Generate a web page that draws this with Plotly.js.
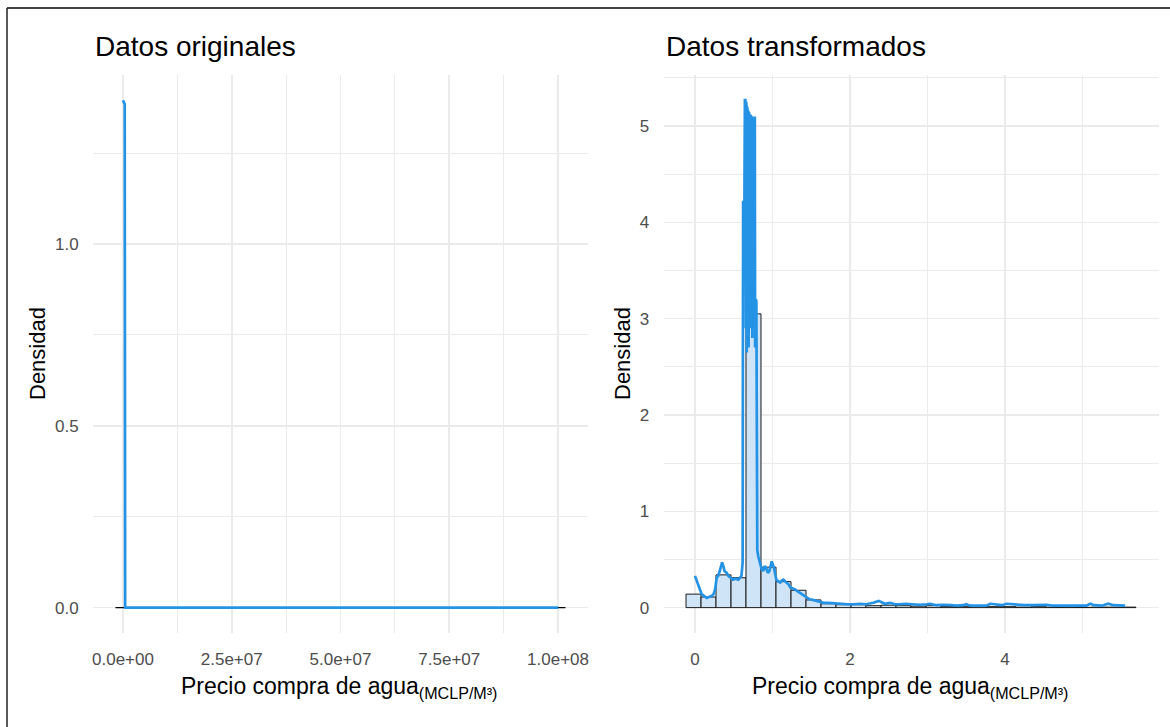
<!DOCTYPE html>
<html>
<head>
<meta charset="utf-8">
<script src="https://cdn.plot.ly/plotly-3.0.1.min.js"></script>
<style>html,body{margin:0;padding:0;background:#fff;}#chart{width:1170px;height:727px;}</style>
</head>
<body>
<div id="chart"></div>
<script>
// ---------- DATA ----------
// Left panel: original data (density of Precio compra de agua)
const leftDensityX = [0, 400000, 500000, 100000000];
const leftDensityY = [1.395, 1.385, 0.0, 0.0];
// Left panel histogram (30 bins, all effectively zero height at this scale)
const leftHistX = [-1720000, 101720000];
const leftHistY = [0, 0];
const leftXTickVals = [0, 25000000, 50000000, 75000000, 100000000];
const leftXTickText = ['0.0e+00', '2.5e+07', '5.0e+07', '7.5e+07', '1.0e+08'];
const leftYTickVals = [0, 0.5, 1.0];
const leftYTickText = ['0.0', '0.5', '1.0'];

// Right panel: transformed data histogram (30 bins)
const rightBinCenters = [-0.019, 0.175, 0.368, 0.562, 0.755, 0.949, 1.142, 1.336, 1.529, 1.723,
  1.916, 2.110, 2.303, 2.497, 2.690, 2.884, 3.077, 3.271, 3.464, 3.658,
  3.851, 4.045, 4.238, 4.432, 4.625, 4.819, 5.012, 5.206, 5.399, 5.593];
const rightBinHeights = [0.14, 0.11, 0.34, 0.31, 3.05, 0.42, 0.27, 0.18, 0.08, 0.04,
  0.03, 0.03, 0.02, 0.025, 0.02, 0.015, 0.02, 0.01, 0.01, 0.015,
  0.01, 0.01, 0.005, 0.01, 0.005, 0.005, 0.003, 0.005, 0.005, 0.005];
const rightBinWidth = 0.1935;

// Right panel density curve
const rightDensityX = [0.0, 0.02, 0.043, 0.07, 0.086, 0.12, 0.15, 0.18, 0.215, 0.24, 0.26, 0.28, 0.30, 0.32, 0.35, 0.37, 0.38, 0.41, 0.43, 0.46, 0.49, 0.52, 0.56, 0.60, 0.615,
  0.621, 0.626, 0.632, 0.638, 0.644, 0.650, 0.656, 0.660, 0.664, 0.668, 0.672, 0.676, 0.680, 0.684, 0.688, 0.692, 0.696, 0.700, 0.704, 0.708, 0.712,
  0.716, 0.720, 0.724, 0.728, 0.732, 0.736, 0.740, 0.744, 0.748, 0.752, 0.756, 0.760, 0.764, 0.768, 0.772, 0.776, 0.780, 0.786, 0.792, 0.798, 0.804,
  0.817, 0.84, 0.86, 0.88, 0.90, 0.92, 0.94, 0.96, 0.99, 1.02, 1.05, 1.08, 1.10, 1.12, 1.14, 1.18, 1.21, 1.23, 1.26, 1.29, 1.32, 1.35, 1.38, 1.42, 1.45, 1.48, 1.52, 1.57, 1.62, 1.66, 1.72, 1.78, 1.84, 1.91, 1.97, 2.04, 2.13, 2.21,
  2.30, 2.37, 2.45, 2.52, 2.58, 2.64, 2.72, 2.80, 2.90, 2.99, 3.03, 3.12, 3.20, 3.30, 3.38, 3.46, 3.50, 3.55, 3.65, 3.76, 3.81, 3.90, 3.96, 4.02, 4.15, 4.25, 4.35, 4.45, 4.54, 4.60, 4.72, 4.85, 4.95, 5.05, 5.10, 5.15, 5.25, 5.33, 5.40, 5.48, 5.55];
const rightDensityY = [0.33, 0.28, 0.24, 0.17, 0.14, 0.12, 0.10, 0.11, 0.12, 0.14, 0.19, 0.31, 0.33, 0.38, 0.47, 0.42, 0.38, 0.36, 0.33, 0.31, 0.29, 0.30, 0.29, 0.33, 0.47,
  4.21, 4.21, 3.9, 4.21, 5.27, 5.27, 2.9, 5.25, 5.22, 2.65, 5.20, 5.18, 3.0, 5.16, 5.15, 2.7, 5.14, 5.13, 3.1, 5.12, 5.12,
  2.9, 5.11, 5.10, 3.0, 5.10, 5.10, 2.8, 5.10, 5.10, 3.2, 5.10, 5.10, 3.0, 5.10, 5.10, 2.7, 3.2, 3.2, 3.18, 1.2, 0.6,
  0.53, 0.45, 0.40, 0.38, 0.43, 0.41, 0.36, 0.38, 0.48, 0.41, 0.29, 0.27, 0.26, 0.28, 0.29, 0.26, 0.24, 0.21, 0.20, 0.19, 0.17, 0.155, 0.14, 0.12, 0.10, 0.086, 0.08, 0.07, 0.055, 0.05, 0.05, 0.045, 0.04, 0.04, 0.035, 0.035, 0.04, 0.035,
  0.05, 0.07, 0.04, 0.05, 0.035, 0.035, 0.04, 0.035, 0.03, 0.035, 0.04, 0.025, 0.03, 0.025, 0.02, 0.025, 0.035, 0.02, 0.02, 0.02, 0.04, 0.03, 0.025, 0.04, 0.03, 0.025, 0.025, 0.03, 0.03, 0.02, 0.02, 0.02, 0.02, 0.02, 0.04, 0.025, 0.02, 0.04, 0.025, 0.02, 0.02];
const rightXTickVals = [0, 2, 4];
const rightXTickText = ['0', '2', '4'];
const rightYTickVals = [0, 1, 2, 3, 4, 5];
const rightYTickText = ['0', '1', '2', '3', '4', '5'];

const titles = ['Datos originales', 'Datos transformados'];
const xTitle = 'Precio compra de agua<sub>(MCLP/M³)</sub>';
const yTitle = 'Densidad';

// ---------- STYLE ----------
const W = 1170, H = 727;
const px = v => v / W;
const py = v => 1 - v / H;
const blue = '#2493E6';
const grid = '#ebebeb';
const FONT = 'Liberation Sans, Arial, sans-serif';
const tickFont = {family: FONT, size: 17, color: '#4d4d4d'};
const yDom = [py(633), py(75)];

const traces = [
  {type: 'scatter', mode: 'lines', x: leftHistX, y: leftHistY, xaxis: 'x', yaxis: 'y',
   line: {color: '#000', width: 1.2}, hoverinfo: 'skip', showlegend: false},
  {type: 'scatter', mode: 'lines', x: leftDensityX, y: leftDensityY, xaxis: 'x', yaxis: 'y',
   line: {color: blue, width: 2.7}, showlegend: false},
  {type: 'bar', x: rightBinCenters, y: rightBinHeights, width: rightBinWidth, xaxis: 'x2', yaxis: 'y2',
   marker: {color: '#cfe4f6', line: {color: '#1a1a1a', width: 1}}, showlegend: false},
  {type: 'scatter', mode: 'lines', x: rightDensityX, y: rightDensityY, xaxis: 'x2', yaxis: 'y2',
   line: {color: blue, width: 2.7}, showlegend: false}
];

function axisBase(extra) {
  return Object.assign({
    showline: false, zeroline: false, showgrid: true, gridcolor: grid, gridwidth: 1.6,
    ticks: 'outside', tickcolor: 'rgba(0,0,0,0)', tickfont: tickFont, tickmode: 'array', fixedrange: true
  }, extra);
}

const layout = {
  width: W, height: H,
  margin: {l: 0, r: 0, t: 0, b: 0},
  paper_bgcolor: '#fff', plot_bgcolor: '#fff',
  bargap: 0,
  showlegend: false,
  xaxis: axisBase({domain: [px(93), px(588)], range: [-6890000, 106890000], anchor: 'y',
    tickvals: leftXTickVals, ticktext: leftXTickText, ticklen: 11,
    minor: {tickvals: [12500000, 37500000, 62500000, 87500000], showgrid: true, gridcolor: grid, gridwidth: 1}}),
  yaxis: axisBase({domain: yDom, range: [-0.07, 1.465], anchor: 'x',
    tickvals: leftYTickVals, ticktext: leftYTickText, ticklen: 10,
    minor: {tickvals: [0.25, 0.75, 1.25], showgrid: true, gridcolor: grid, gridwidth: 1}}),
  xaxis2: axisBase({domain: [px(663.5), px(1158.5)], range: [-0.406, 5.98], anchor: 'y2',
    tickvals: rightXTickVals, ticktext: rightXTickText, ticklen: 11,
    minor: {tickvals: [1, 3, 5], showgrid: true, gridcolor: grid, gridwidth: 1}}),
  yaxis2: axisBase({domain: yDom, range: [-0.2635, 5.53], anchor: 'x2',
    tickvals: rightYTickVals, ticktext: rightYTickText, ticklen: 10,
    minor: {tickvals: [0.5, 1.5, 2.5, 3.5, 4.5, 5.5], showgrid: true, gridcolor: grid, gridwidth: 1}}),
  annotations: [
    {text: titles[0], xref: 'paper', yref: 'paper', x: px(93), y: py(47), xanchor: 'left', yanchor: 'middle',
     showarrow: false, font: {family: FONT, size: 28, color: '#000'}},
    {text: titles[1], xref: 'paper', yref: 'paper', x: px(664), y: py(47), xanchor: 'left', yanchor: 'middle',
     showarrow: false, font: {family: FONT, size: 28, color: '#000'}},
    {text: xTitle, xref: 'paper', yref: 'paper', x: px(339), y: py(687), xanchor: 'center', yanchor: 'middle',
     showarrow: false, font: {family: FONT, size: 23, color: '#000'}},
    {text: xTitle, xref: 'paper', yref: 'paper', x: px(910), y: py(687), xanchor: 'center', yanchor: 'middle',
     showarrow: false, font: {family: FONT, size: 23, color: '#000'}},
    {text: yTitle, xref: 'paper', yref: 'paper', x: px(38), y: py(354), xanchor: 'center', yanchor: 'middle', textangle: -90,
     showarrow: false, font: {family: FONT, size: 22, color: '#000'}},
    {text: yTitle, xref: 'paper', yref: 'paper', x: px(623), y: py(354), xanchor: 'center', yanchor: 'middle', textangle: -90,
     showarrow: false, font: {family: FONT, size: 22, color: '#000'}}
  ],
  shapes: [
    {type: 'line', xref: 'paper', yref: 'paper', x0: px(7), x1: 1, y0: py(8), y1: py(8), line: {color: '#444', width: 2}},
    {type: 'line', xref: 'paper', yref: 'paper', x0: px(7), x1: px(7), y0: py(8), y1: 0, line: {color: '#222', width: 1.5}}
  ]
};

Plotly.newPlot('chart', traces, layout, {displayModeBar: false, staticPlot: true});
</script>
</body>
</html>
